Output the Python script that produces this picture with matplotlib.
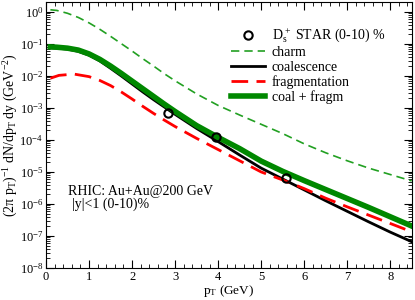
import matplotlib
matplotlib.use("Agg")
import matplotlib.pyplot as plt
from matplotlib.ticker import MultipleLocator, LogLocator, NullFormatter

plt.rcParams["font.family"] = ["Liberation Serif", "DejaVu Serif"]
plt.rcParams["mathtext.default"] = "regular"
plt.rcParams["font.size"] = 10

# pT grid (GeV) on which the curves were read
pt = [0.1, 0.25, 0.5, 0.75, 1.0, 1.25, 1.5, 1.75, 2.0, 2.25, 2.5, 2.75, 3.0,
      3.5, 4.0, 4.5, 5.0, 5.5, 6.0, 6.5, 7.0, 7.5, 8.0, 8.5]

# log10 of the spectra
log_charm = [0.07, 0.05, -0.04, -0.17, -0.34, -0.54, -0.76, -0.99, -1.22, -1.46,
             -1.69, -1.93, -2.15, -2.56, -2.92, -3.22, -3.51, -3.80, -4.12, -4.40,
             -4.65, -4.88, -5.08, -5.28]
log_coal = [-1.12, -1.13, -1.16, -1.23, -1.35, -1.53, -1.76, -2.00, -2.25, -2.50,
            -2.74, -2.97, -3.20, -3.64, -4.05, -4.47, -4.88, -5.22, -5.56, -5.90,
            -6.23, -6.56, -6.88, -7.18]
log_sum = [-1.09, -1.10, -1.13, -1.19, -1.31, -1.48, -1.69, -1.92, -2.16, -2.40,
           -2.64, -2.88, -3.11, -3.55, -3.92, -4.27, -4.66, -4.98, -5.27, -5.55,
           -5.83, -6.11, -6.40, -6.69]

pt_frag = [0.1, 0.3, 0.65, 1.0, 1.25, 1.5, 1.75, 2.0, 2.25, 2.5, 2.75, 3.0, 3.5,
           4.0, 4.5, 5.0, 5.5, 6.0, 6.5, 7.0, 7.5, 8.0, 8.5]
log_frag = [-2.07, -1.98, -1.94, -2.02, -2.14, -2.30, -2.50, -2.72, -2.95, -3.17,
            -3.38, -3.58, -3.95, -4.30, -4.65, -5.00, -5.25, -5.52, -5.82, -6.09,
            -6.35, -6.61, -6.87]

# STAR Ds+ data points
pt_star = [2.84, 3.95, 5.57]
y_star = [6.9e-4, 1.26e-4, 6.3e-6]


def unlog(vals):
    return [10 ** v for v in vals]


fig = plt.figure(figsize=(4.15, 3.0), dpi=100)
ax = fig.add_axes([0.111, 0.107, 0.881, 0.885])

ax.plot(pt_star, y_star, "o", mfc="none", mec="black", mew=1.5, ms=6,
        label=r"D$_s^+$ STAR (0-10) %", zorder=5)
ax.plot(pt, unlog(log_charm), color="#22a022", lw=1.2, dashes=(5, 3),
        label="charm")
ax.plot(pt, unlog(log_coal), color="black", lw=2, label="coalescence")
ax.plot(pt_frag, unlog(log_frag), color="red", lw=2, dashes=(6, 3),
        label="fragmentation")
ax.plot(pt, unlog(log_sum), color="#008800", lw=4, label="coal + fragm")

ax.set_yscale("log")
ax.set_xlim(0, 8.5)
ax.set_ylim(1e-8, 2)

ax.xaxis.set_major_locator(MultipleLocator(1))
ax.xaxis.set_minor_locator(MultipleLocator(0.2))
ax.yaxis.set_major_locator(LogLocator(base=10, numticks=20))
ax.yaxis.set_minor_locator(LogLocator(base=10, subs=range(2, 10), numticks=20))
ax.yaxis.set_minor_formatter(NullFormatter())
ax.tick_params(which="both", direction="in", top=True, right=True, labelsize=9)
ax.tick_params(which="major", length=6, pad=2)
ax.tick_params(which="minor", length=3)

ax.set_xlabel("p$_T$ (GeV)", fontsize=9.5)
ax.set_ylabel("(2π p$_T$)$^{-1}$ dN/dp$_T$ dy (GeV$^{-2}$)", fontsize=10)
ax.xaxis.set_label_coords(0.5, -0.055)
ax.yaxis.set_label_coords(-0.072, 0.5)

ax.text(0.06, 0.275, "RHIC: Au+Au@200 GeV", transform=ax.transAxes, fontsize=10)
ax.text(0.07, 0.225, "|y|<1 (0-10)%", transform=ax.transAxes, fontsize=10)

ax.legend(loc="upper left", bbox_to_anchor=(0.48, 0.945), frameon=False,
          fontsize=10, handlelength=2.4, handletextpad=0.5,
          labelspacing=0.1, borderpad=0.2)

fig.savefig("out.png", dpi=100)
